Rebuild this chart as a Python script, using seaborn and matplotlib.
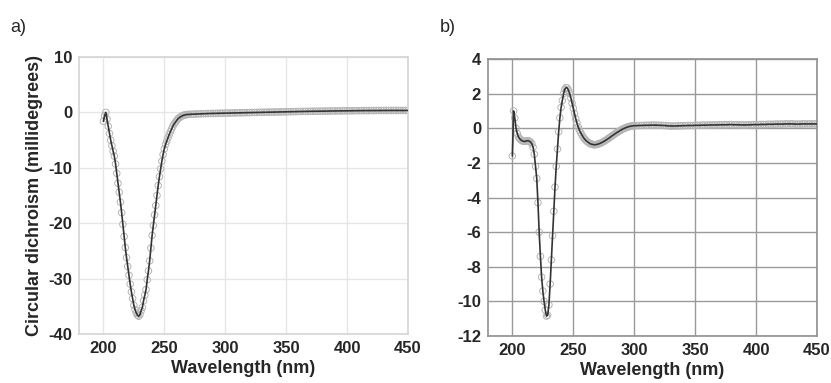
import matplotlib
matplotlib.use("Agg")
import matplotlib.pyplot as plt
import seaborn as sns
import numpy as np
import pandas as pd

sns.set_theme(style="white")
plt.rcParams['font.family'] = ['Liberation Sans', 'DejaVu Sans']
plt.rcParams['axes.unicode_minus'] = False

# ---------------- data ----------------
# panel a: wavelengths (nm) and CD (millidegrees)
wl_a_fine = list(range(200, 271))
cd_a_fine = [-1.6, -0.6, 0.0, -1.2, -2.5, -3.8, -5.0, -6.0, -7.0, -7.9,
             -9.3, -11.0, -12.8, -14.4, -16.2, -18.1, -20.2, -22.4, -24.4, -26.2,
             -27.8, -29.4, -31.0, -32.4, -33.6, -34.8, -35.6, -36.2, -36.6, -36.8,
             -36.5, -35.8, -35.2, -34.0, -33.0, -32.0, -30.2, -28.6, -26.8, -24.5,
             -22.2, -20.4, -18.5, -16.8, -15.0, -13.2, -11.6, -10.2, -8.8, -7.6,
             -6.6, -5.8, -5.2, -4.6, -4.0, -3.5, -3.0, -2.5, -2.1, -1.8,
             -1.5, -1.2, -1.0, -0.85, -0.7, -0.6, -0.5, -0.45, -0.4, -0.38,
             -0.35]
wl_a_flat = list(range(272, 451, 2))
cd_a_flat = [-0.33, -0.31, -0.29, -0.27, -0.25, -0.23, -0.22, -0.20, -0.19, -0.18,
             -0.17, -0.16, -0.15, -0.14, -0.13, -0.12, -0.11, -0.10, -0.09, -0.08,
             -0.07, -0.06, -0.05, -0.04, -0.03, -0.02, -0.01, 0.0, 0.01, 0.02,
             0.03, 0.04, 0.05, 0.06, 0.06, 0.07, 0.08, 0.09, 0.10, 0.11,
             0.12, 0.13, 0.14, 0.15, 0.16, 0.17, 0.18, 0.18, 0.19, 0.20,
             0.20, 0.21, 0.22, 0.22, 0.23, 0.24, 0.24, 0.25, 0.26, 0.26,
             0.27, 0.27, 0.28, 0.28, 0.29, 0.29, 0.30, 0.30, 0.31, 0.31,
             0.32, 0.32, 0.32, 0.33, 0.33, 0.33, 0.34, 0.34, 0.34, 0.35,
             0.35, 0.35, 0.35, 0.35, 0.35, 0.35, 0.35, 0.35, 0.35, 0.35]

# panel b
wl_b_fine = list(range(200, 301))
cd_b_fine = [-1.6, 1.0, 0.6, 0.0, -0.3, -0.5, -0.6, -0.68, -0.72, -0.75,
             -0.76, -0.75, -0.72, -0.72, -0.75, -0.8, -0.9, -1.1, -1.5, -2.2,
             -2.9, -4.3, -6.0, -7.4, -8.6, -9.4, -10.0, -10.5, -10.85, -10.8,
             -10.2, -9.0, -7.6, -6.2, -4.8, -3.4, -2.2, -1.2, -0.2, 0.6,
             1.2, 1.6, 2.0, 2.25, 2.35, 2.33, 2.2, 2.0, 1.75, 1.45,
             1.15, 0.85, 0.55, 0.3, 0.08, -0.1, -0.25, -0.38, -0.5, -0.6,
             -0.68, -0.75, -0.8, -0.85, -0.9, -0.92, -0.94, -0.95, -0.95, -0.94,
             -0.92, -0.9, -0.87, -0.84, -0.8, -0.76, -0.72, -0.68, -0.63, -0.58,
             -0.53, -0.48, -0.43, -0.38, -0.33, -0.28, -0.24, -0.2, -0.15, -0.11,
             -0.07, -0.03, 0.0, 0.03, 0.06, 0.08, 0.1, 0.12, 0.13, 0.14,
             0.15]
wl_b_flat = list(range(302, 451, 2))
cd_b_flat = [0.15, 0.16, 0.16, 0.17, 0.17, 0.17, 0.18, 0.18, 0.18, 0.17,
             0.17, 0.16, 0.15, 0.14, 0.13, 0.13, 0.13, 0.14, 0.14, 0.15,
             0.15, 0.16, 0.16, 0.16, 0.17, 0.17, 0.17, 0.18, 0.18, 0.18,
             0.19, 0.19, 0.19, 0.19, 0.20, 0.20, 0.20, 0.20, 0.21, 0.21,
             0.20, 0.20, 0.20, 0.19, 0.19, 0.19, 0.20, 0.20, 0.21, 0.21,
             0.21, 0.22, 0.22, 0.22, 0.23, 0.23, 0.23, 0.24, 0.24, 0.24,
             0.24, 0.25, 0.25, 0.25, 0.25, 0.24, 0.24, 0.24, 0.25, 0.25,
             0.25, 0.25, 0.25, 0.25, 0.25]

xticks = [200, 250, 300, 350, 400, 450]
yticks_a = [10, 0, -10, -20, -30, -40]
yticks_b = [4, 2, 0, -2, -4, -6, -8, -10, -12]

df_a = pd.DataFrame({"wl": wl_a_fine + wl_a_flat, "cd": cd_a_fine + cd_a_flat})
df_b = pd.DataFrame({"wl": wl_b_fine + wl_b_flat, "cd": cd_b_fine + cd_b_flat})

# ---------------- figure ----------------
fig = plt.figure(figsize=(8.31, 3.83), dpi=100)
ax_a = fig.add_axes([79/831, (383-334)/383, (408-79)/831, (334-57)/383])
ax_b = fig.add_axes([488/831, (383-336)/383, (817-488)/831, (336-59)/383])

def draw(ax, df, ylim, yticks, grid_color, spine_color):
    sns.scatterplot(data=df, x="wl", y="cd", ax=ax, marker="o", s=22,
                    facecolor="none", edgecolor="#b5b5b5", linewidth=0.7, zorder=2,
                    legend=False)
    sns.lineplot(data=df, x="wl", y="cd", ax=ax, color="#333333", linewidth=1.2,
                 zorder=3, legend=False)
    ax.set_xlim(180, 450)
    ax.set_ylim(*ylim)
    ax.set_xticks(xticks)
    ax.set_yticks(yticks)
    ax.grid(True, color=grid_color, linewidth=1.0)
    ax.set_axisbelow(True)
    for s in ax.spines.values():
        s.set_color(spine_color)
        s.set_linewidth(1.2)
    ax.tick_params(axis="both", length=0, pad=5, labelsize=12)
    for lab in ax.get_xticklabels() + ax.get_yticklabels():
        lab.set_fontweight("bold")
    ax.set_xlabel("Wavelength (nm)", fontsize=13, fontweight="bold", labelpad=3)

draw(ax_a, df_a, (-40, 10), yticks_a, "#e6e6e6", "#d4d4d4")
draw(ax_b, df_b, (-12, 4), yticks_b, "#9a9a9a", "#909090")

ax_a.set_ylabel("Circular dichroism (millidegrees)", fontsize=13, fontweight="bold",
                labelpad=4)
ax_b.set_ylabel("")

fig.text(10/831, 1 - 27/383, "a)", fontsize=13, va="center", ha="left")
fig.text(440/831, 1 - 27/383, "b)", fontsize=13, va="center", ha="left")

fig.savefig("out.png", dpi=100)
